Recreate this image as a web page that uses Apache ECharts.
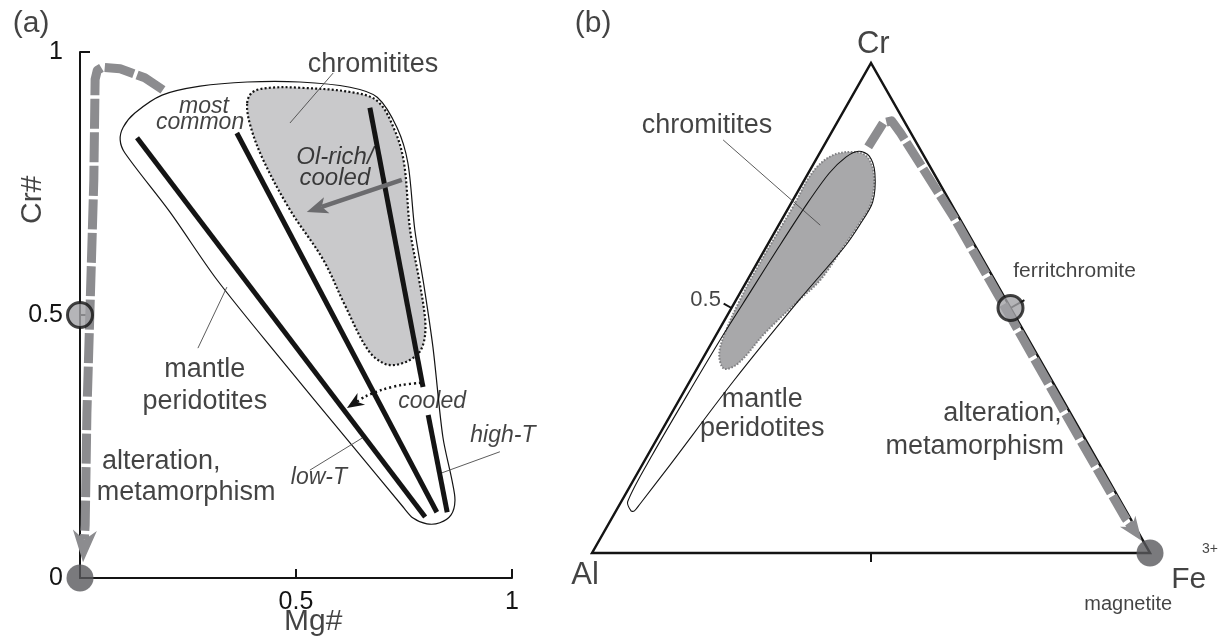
<!DOCTYPE html>
<html><head><meta charset="utf-8">
<script src="https://cdn.jsdelivr.net/npm/echarts@6/dist/echarts.min.js"></script>
<style>html,body{margin:0;padding:0;background:#fff}#chart{width:1226px;height:641px}</style>
</head><body><div id="chart"></div>
<script>
// ---------- Panel (a): Cr# vs Mg# ----------
const aTicks = [0, 0.5, 1];
const aPeridotiteEnvelope = [[0.093,0.833],[0.100,0.857],[0.127,0.884],[0.190,0.918],[0.278,0.935],[0.387,0.943],[0.509,0.943],[0.625,0.933],[0.688,0.914],[0.734,0.856],[0.759,0.789],[0.775,0.662],[0.796,0.557],[0.817,0.439],[0.840,0.268],[0.861,0.186],[0.868,0.148],[0.859,0.120],[0.833,0.105],[0.803,0.103],[0.771,0.114],[0.748,0.135],[0.625,0.257],[0.463,0.418],[0.317,0.567],[0.208,0.696],[0.104,0.808]];
const aChromititeField = [[0.387,0.903],[0.400,0.924],[0.440,0.932],[0.509,0.932],[0.625,0.924],[0.688,0.907],[0.728,0.852],[0.750,0.789],[0.764,0.662],[0.785,0.567],[0.799,0.490],[0.796,0.449],[0.780,0.424],[0.741,0.407],[0.706,0.407],[0.667,0.433],[0.613,0.519],[0.563,0.605],[0.486,0.700],[0.424,0.795],[0.394,0.861]];
const aLowTTrend = [[0.132,0.837],[0.799,0.116]];
const aMostCommonTrend = [[0.363,0.846],[0.826,0.125]];
const aHighTTrendUpper = [[0.671,0.894],[0.794,0.363]];
const aHighTTrendLower = [[0.806,0.310],[0.850,0.125]];
const aAlterationPath = [[0.192,0.928],[0.150,0.951],[0.093,0.968],[0.052,0.971],[0.040,0.965],[0.035,0.948],[0.032,0.757],[0.016,0.314],[0.012,0.101],[0.007,0.030]];
const aCooledPath = [[0.789,0.371],[0.745,0.367],[0.700,0.358],[0.660,0.345],[0.618,0.323]];
const aOlRichPath = [[0.745,0.757],[0.525,0.696]];
const aLeaders = [
  [[0.586,0.960],[0.486,0.865]],
  [[0.340,0.553],[0.273,0.437]],
  [[0.653,0.266],[0.532,0.205]],
  [[0.972,0.240],[0.838,0.200]]
];
const aOpenPoints = [[0, 0.5]];
const aEndPoints = [[0, 0]];

// ---------- Panel (b): Cr - Al - Fe3+ ternary (x: Al->Fe, y: ->Cr) ----------
const bTriangle = [[0,0],[0.5,1],[1,0]];
const bEdgeTicks = [[0.5,0],[0.25,0.5],[0.75,0.5]];
const bChromititeField = [[0.475,0.818],[0.495,0.806],[0.505,0.771],[0.500,0.714],[0.477,0.669],[0.450,0.624],[0.409,0.557],[0.371,0.516],[0.310,0.449],[0.263,0.388],[0.237,0.376],[0.228,0.404],[0.237,0.445],[0.265,0.516],[0.301,0.592],[0.360,0.706],[0.396,0.778],[0.432,0.812]];
const bPeridotiteEnvelope = [[0.070,0.086],[0.064,0.105],[0.108,0.2],[0.185,0.35],[0.235,0.445],[0.285,0.535],[0.335,0.625],[0.385,0.712],[0.425,0.775],[0.455,0.808],[0.478,0.820],[0.497,0.810],[0.507,0.775],[0.503,0.716],[0.480,0.670],[0.452,0.624],[0.371,0.516],[0.253,0.350],[0.140,0.180],[0.086,0.100],[0.076,0.086]];
const bAlterationPath = [[0.495,0.829],[0.522,0.878],[0.537,0.882],[0.553,0.857],[0.648,0.686],[0.748,0.486],[0.875,0.231],[0.956,0.071],[0.985,0.025]];
const bLeader = [[0.235,0.843],[0.409,0.669]];
const bOpenPoints = [[0.75, 0.5]];
const bEndPoints = [[1, 0]];

// ---------- text ----------
const aTexts = ['chromitites','most','common','Ol-rich/','cooled','mantle','peridotites','cooled','high-T','low-T','alteration,','metamorphism','Mg#','Cr#','(a)'];
const bTexts = ['Cr','chromitites','0.5','ferritchromite','mantle','peridotites','alteration,','metamorphism','Al','magnetite','Fe','3+','(b)'];

const FONT = '"Liberation Sans", Arial, Helvetica, sans-serif';
const INK = '#141414';

function P(api, pts) { return pts.map(p => api.coord(p)); }

function arrowGroup(api, pts, o) {
  const p = P(api, pts);
  const tip = p[p.length-1], prev = p[p.length-2];
  let dx = tip[0]-prev[0], dy = tip[1]-prev[1];
  const len = Math.hypot(dx, dy); dx /= len; dy /= len;
  const nx = -dy, ny = dx;
  const bx = tip[0]-dx*o.L, by = tip[1]-dy*o.L;
  const notch = [tip[0]-dx*o.L*o.notch, tip[1]-dy*o.L*o.notch];
  const line = p.slice(0, -1).concat([notch]);
  return {type:'group', children:[
    {type:'polyline', shape:{points: line, smooth: o.smooth || 0}, style:{stroke:o.color, lineWidth:o.width, lineDash:o.dash || null, lineCap:'butt', lineJoin:'round', fill:null}},
    {type:'polygon', shape:{points:[tip,[bx+nx*o.W/2, by+ny*o.W/2], notch, [bx-nx*o.W/2, by-ny*o.W/2]]}, style:{fill:o.color, stroke:null}}
  ]};
}

function custom(grid, render, z) {
  return {type:'custom', coordinateSystem:'cartesian2d', xAxisIndex:grid, yAxisIndex:grid, clip:false, silent:true, z: z || 2, data:[[0,0]], renderItem:(params, api) => render(api)};
}

function polygon(api, pts, style, smooth) {
  return {type:'polygon', shape:{points:P(api, pts), smooth: smooth || 0}, style: style};
}
function polyline(api, pts, style, smooth) {
  return {type:'polyline', shape:{points:P(api, pts), smooth: smooth || 0}, style: Object.assign({fill:null}, style)};
}

function textSeries(grid, items) {
  return {type:'scatter', xAxisIndex:grid, yAxisIndex:grid, symbolSize:1, clip:false, silent:true, z:10,
    itemStyle:{color:'rgba(0,0,0,0)'},
    label:{show:true, position:'inside', formatter:'{b}', color:INK, textBorderWidth:0, fontFamily:FONT, fontSize:27, align:'center', verticalAlign:'middle'},
    data: items.map(it => ({name: it[0], value:[it[1], it[2]], label: Object.assign({}, it[3] || {})}))};
}

const IT = {fontStyle:'italic', fontSize:23};
const aTextItems = [
  [aTexts[0], 0.678, 0.977],
  [aTexts[1], 0.287, 0.897, IT],
  [aTexts[2], 0.278, 0.865, IT],
  [aTexts[3], 0.590, 0.800, Object.assign({}, IT, {fontSize:24})],
  [aTexts[4], 0.590, 0.760, Object.assign({}, IT, {fontSize:24})],
  [aTexts[5], 0.289, 0.397],
  [aTexts[6], 0.289, 0.336],
  [aTexts[7], 0.815, 0.336, IT],
  [aTexts[8], 0.979, 0.270, IT],
  [aTexts[9], 0.553, 0.190, IT],
  [aTexts[10], 0.051, 0.221, {align:'left'}],
  [aTexts[11], 0.039, 0.162, {align:'left'}],
  [aTexts[12], 0.54, -0.084, {fontSize:30}],
  [aTexts[13], -0.109, 0.719, {fontSize:30, rotate:90}],
  [aTexts[14], -0.113, 1.053, {fontSize:30}]
];
const bTextItems = [
  [bTexts[0], 0.504, 1.037, {fontSize:31}],
  [bTexts[1], 0.206, 0.873],
  [bTexts[2], 0.231, 0.516, {align:'right', fontSize:22}],
  [bTexts[3], 0.755, 0.576, {align:'left', fontSize:21}],
  [bTexts[4], 0.305, 0.314],
  [bTexts[5], 0.305, 0.253],
  [bTexts[6], 0.842, 0.284, {align:'right'}],
  [bTexts[7], 0.846, 0.218, {align:'right'}],
  [bTexts[8], -0.0125, -0.045, {fontSize:31}],
  [bTexts[9], 0.961, -0.105, {fontSize:20}],
  [bTexts[10], 1.038, -0.055, {align:'left', fontSize:30}],
  [bTexts[11], 1.093, 0.008, {align:'left', fontSize:14}],
  [bTexts[12], 0.002, 1.080, {fontSize:30}]
];

const axisLine = {show:true, lineStyle:{color:INK, width:2}};
const tick = {show:true, inside:true, length:10, lineStyle:{color:INK, width:2}};
const fmt = v => (v === 0 ? '0' : v === 0.5 ? '0.5' : v === 1 ? '1' : '');

const series = [
  // panel a
  custom(0, api => polygon(api, aChromititeField, {fill:'#c9c9cb', stroke:null}, 0.35), 1),
  custom(0, api => polygon(api, aPeridotiteEnvelope, {fill:null, stroke:INK, lineWidth:1.2}, 0.3), 2),
  custom(0, api => polygon(api, aChromititeField, {fill:null, stroke:INK, lineWidth:2.2, lineDash:[2,2.2]}, 0.35), 3),
  custom(0, api => ({type:'group', children:[aLowTTrend, aMostCommonTrend, aHighTTrendUpper, aHighTTrendLower].map(l => polyline(api, l, {stroke:INK, lineWidth:5, lineCap:'butt'}))}), 4),
  custom(0, api => ({type:'group', children:aLeaders.map(l => polyline(api, l, {stroke:'#4a4a4a', lineWidth:0.9}))}), 4),
  custom(0, api => arrowGroup(api, aOlRichPath, {color:'#6b6b6e', width:4.5, L:21, W:17, notch:0.75}), 5),
  custom(0, api => arrowGroup(api, aCooledPath, {color:INK, width:2.5, L:17, W:14, notch:0.7, dash:[2,3], smooth:0.3}), 5),
  custom(0, api => arrowGroup(api, aAlterationPath, {color:'#8c8c8f', width:9, L:32, W:24, notch:0.7, dash:[30,3.5]}), 5),
  {type:'scatter', xAxisIndex:0, yAxisIndex:0, clip:false, silent:true, z:6, symbolSize:25, data:aOpenPoints, itemStyle:{color:'#a3a3a6', borderColor:INK, borderWidth:3}},
  {type:'scatter', xAxisIndex:0, yAxisIndex:0, clip:false, silent:true, z:6, symbolSize:27, data:aEndPoints, itemStyle:{color:'#59595c'}},
  textSeries(0, aTextItems),
  // panel b
  custom(1, api => polygon(api, bChromititeField, {fill:'#a8a8aa', stroke:'#808083', lineWidth:2, lineDash:[1.6,1.6]}, 0.35), 1),
  custom(1, api => polygon(api, bPeridotiteEnvelope, {fill:null, stroke:INK, lineWidth:1.1}, 0.3), 2),
  custom(1, api => polygon(api, bTriangle, {fill:null, stroke:INK, lineWidth:2.5, lineJoin:'miter'}), 3),
  custom(1, api => {
    const tri = P(api, bTriangle);
    const c = [(tri[0][0]+tri[1][0]+tri[2][0])/3, (tri[0][1]+tri[1][1]+tri[2][1])/3];
    const edges = [[tri[0],tri[2]],[tri[0],tri[1]],[tri[1],tri[2]]];
    const lens = [9, 9, 16];
    return {type:'group', children: bEdgeTicks.map((t, i) => {
      const p = api.coord(t), e = edges[i];
      let dx = e[1][0]-e[0][0], dy = e[1][1]-e[0][1]; const l = Math.hypot(dx, dy);
      let nx = dy/l, ny = -dx/l;
      if ((p[0]-c[0])*nx + (p[1]-c[1])*ny < 0) { nx = -nx; ny = -ny; }
      return {type:'line', shape:{x1:p[0], y1:p[1], x2:p[0]+nx*lens[i], y2:p[1]+ny*lens[i]}, style:{stroke:INK, lineWidth:2}};
    })};
  }, 3),
  custom(1, api => polyline(api, bLeader, {stroke:'#4a4a4a', lineWidth:0.9}), 4),
  custom(1, api => arrowGroup(api, bAlterationPath, {color:'#8c8c8f', width:9, L:24, W:19, notch:0.7, dash:[28,3.5]}), 5),
  {type:'scatter', xAxisIndex:1, yAxisIndex:1, clip:false, silent:true, z:6, symbolSize:25, data:bOpenPoints, itemStyle:{color:'#a3a3a6', borderColor:INK, borderWidth:3}},
  {type:'scatter', xAxisIndex:1, yAxisIndex:1, clip:false, silent:true, z:6, symbolSize:27, data:bEndPoints, itemStyle:{color:'#59595c'}},
  textSeries(1, bTextItems)
];

const chart = echarts.init(document.getElementById('chart'), null, {renderer:'canvas'});
chart.setOption({
  animation:false,
  backgroundColor:'#fff',
  grid:[
    {left:80, top:52, width:432, height:526},
    {left:592, top:63, width:558, height:490}
  ],
  xAxis:[
    {gridIndex:0, type:'value', min:aTicks[0], max:aTicks[2], interval:aTicks[1], axisLine, axisTick:Object.assign({}, tick, {length:9}), splitLine:{show:false},
      axisLabel:{formatter:v => (v === 0 ? '' : fmt(v)), color:INK, fontFamily:FONT, fontSize:25, margin:12}},
    {gridIndex:1, type:'value', min:0, max:1, show:false}
  ],
  yAxis:[
    {gridIndex:0, type:'value', min:aTicks[0], max:aTicks[2], interval:aTicks[1], axisLine, axisTick:tick, splitLine:{show:false},
      axisLabel:{formatter:fmt, color:INK, fontFamily:FONT, fontSize:25, margin:17}},
    {gridIndex:1, type:'value', min:0, max:1, show:false}
  ],
  series
});
</script></body></html>
